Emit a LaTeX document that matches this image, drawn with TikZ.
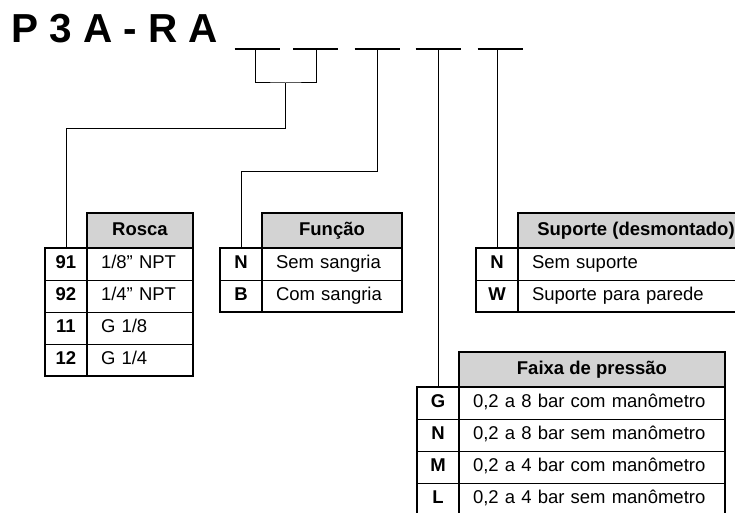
\documentclass[tikz,border=0pt]{standalone}
\usepackage{fontspec}
\setmainfont{Liberation Sans}
\usetikzlibrary{positioning}
\definecolor{hdrgray}{RGB}{211,211,211}

\begin{document}
\begin{tikzpicture}[x=1pt, y=1pt,
  cell/.style={draw, line width=0.9pt, minimum height=32pt, inner sep=0pt, outer sep=0pt,
    text height=13.5pt, text depth=4pt, font=\fontsize{18.5}{20}\selectfont},
  code/.style={cell, minimum width=42pt, font=\bfseries\fontsize{18.5}{20}\selectfont},
  txt/.style={cell, inner xsep=14pt, text width=#1, align=left},
  hdr/.style={draw, line width=2.2pt, fill=hdrgray, minimum width=#1, minimum height=35pt,
    inner sep=0pt, outer sep=0pt, text height=13.5pt, text depth=4pt,
    font=\bfseries\fontsize{18.5}{20}\selectfont},
  frame/.style={line width=2.2pt},
  wire/.style={line width=1pt},
  bar/.style={line width=2.4pt}]
\useasboundingbox (0,0) rectangle (735,-513);
\clip (0,0) rectangle (735,-513);

% code
\node[anchor=base west, inner sep=0pt, font=\bfseries\fontsize{40.5}{42}\selectfont] (code) at (11,-43) {P 3 A - R A};
\foreach \x in {234.5,293,354.5,415.5,477.5}
{
    \draw[bar](\x,-49)--++(45,0);
}
\coordinate (d1) at (255,-49);
\coordinate (d2) at (316,-49);
\coordinate (d3) at (377,-49);
\coordinate (d4) at (438,-49);
\coordinate (d5) at (497,-49);

% Rosca
\foreach \c/\t [count=\i] in {91/{1/8” NPT},92/{1/4” NPT},11/{G 1/8},12/{G 1/4}}
{
    \node[code, anchor=north west] (ra\i) at (45,{-248-32*(\i-1)}) {\c};
    \node[txt=78pt, right=0pt of ra\i] (rb\i) {\t};
}
\node[hdr=106pt, above=0pt of rb1] (rosca) {Rosca};
\draw[frame] (ra1.north west) rectangle (ra4.south east);
\draw[frame] (rb1.north west) rectangle (rb4.south east);

% Funcao
\foreach \c/\t [count=\i] in {N/Sem sangria,B/Com sangria}
{
    \node[code, anchor=north west] (fa\i) at (220,{-248-32*(\i-1)}) {\c};
    \node[txt=112pt, right=0pt of fa\i] (fb\i) {\t};
}
\node[hdr=140pt, above=0pt of fb1] (funcao) {Função};
\draw[frame] (fa1.north west) rectangle (fa2.south east);
\draw[frame] (fb1.north west) rectangle (fb2.south east);

% Suporte
\foreach \c/\t [count=\i] in {N/Sem suporte,W/Suporte para parede}
{
    \node[code, anchor=north west] (sa\i) at (476,{-248-32*(\i-1)}) {\c};
    \node[txt=208pt, right=0pt of sa\i] (sb\i) {\t};
}
\node[hdr=236pt, above=0pt of sb1] (suporte) {Suporte (desmontado)};
\draw[frame] (sa1.north west) rectangle (sa2.south east);
\draw[frame] (sb1.north west) rectangle (sb2.south east);

% Faixa de pressao
\foreach \c/\t [count=\i] in {G/{0,2 a 8 bar com manômetro},N/{0,2 a 8 bar sem manômetro},
    M/{0,2 a 4 bar com manômetro},L/{0,2 a 4 bar sem manômetro}}
{
    \node[code, anchor=north west] (pa\i) at (417,{-387-32*(\i-1)}) {\c};
    \node[txt=238pt, right=0pt of pa\i] (pb\i) {\t};
}
\node[hdr=266pt, above=0pt of pb1] (faixa) {Faixa de pressão};
\draw[frame] (pa1.north west) rectangle (pa4.south east);
\draw[frame] (pb1.north west) rectangle (pb4.south east);

% connectors
\coordinate (j1) at (285.5,-83);
\coordinate (k1) at (285.5,-129);
\coordinate (k2) at (377,-171);
\draw[wire] (d1) |- (j1) -| (d2);
\draw[wire] (j1) -- (k1) -| (ra1.north);
\draw[wire] (d3) -- (k2) -| (fa1.north);
\draw[wire] (d4) -- (pa1.north);
\draw[wire] (d5) -- (sa1.north);
\end{tikzpicture}
\end{document}
